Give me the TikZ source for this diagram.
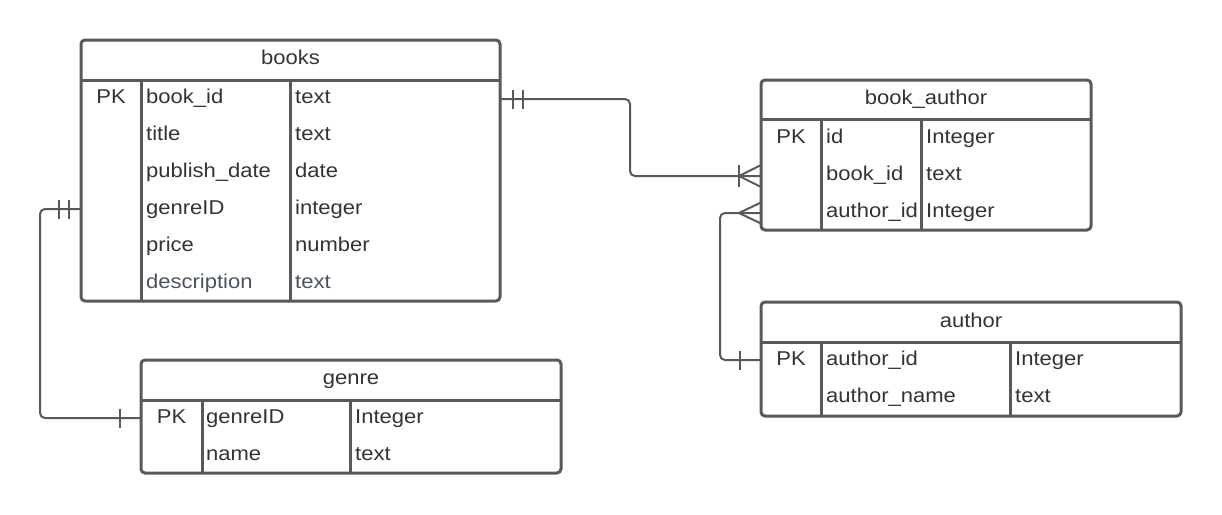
\documentclass[tikz,border=0pt]{standalone}
\usepackage{fontspec}
\setmainfont[FakeStretch=1.1]{Liberation Sans}
\definecolor{edgec}{HTML}{595959}
\definecolor{txtc}{HTML}{333333}
\definecolor{dimc}{HTML}{4A5160}
\tikzset{
  tbl/.style={draw=edgec, line width=3pt, rounded corners=4pt, inner sep=0pt, outer sep=0pt, anchor=north west},
  sepline/.style={draw=edgec, line width=3pt},
  conn/.style={draw=edgec, line width=2pt, rounded corners=5pt},
  tick/.style={draw=edgec, line width=2pt},
  lbl/.style={text=txtc, font=\fontsize{20}{24}\selectfont, inner sep=0pt, anchor=base west},
  dimlbl/.style={lbl, text=dimc},
  hdr/.style={lbl, anchor=base},
  pk/.style={lbl, anchor=base},
}
\begin{document}
\begin{tikzpicture}[x=1pt,y=-1pt]
\useasboundingbox (0,0) rectangle (1222,514);

% ---------- tables (outer frames) ----------
\node[tbl, minimum width=419pt, minimum height=261pt] (books) at (81,40) {};
\node[tbl, minimum width=330pt, minimum height=150pt] (bookauthor) at (761,80) {};
\node[tbl, minimum width=420pt, minimum height=114pt] (author) at (761,302) {};
\node[tbl, minimum width=420pt, minimum height=113pt] (genre) at (141,360) {};

% ---------- inner lines ----------
% books
\draw[sepline] (81,80) -- (500,80);
\draw[sepline] (141,80) -- (141,301);
\draw[sepline] (290,80) -- (290,301);
% book_author
\draw[sepline] (761,119) -- (1091,119);
\draw[sepline] (821,119) -- (821,230);
\draw[sepline] (921,119) -- (921,230);
% author
\draw[sepline] (761,342) -- (1181,342);
\draw[sepline] (821,342) -- (821,416);
\draw[sepline] (1010,342) -- (1010,416);
% genre
\draw[sepline] (141,400) -- (561,400);
\draw[sepline] (202,400) -- (202,473);
\draw[sepline] (350,400) -- (350,473);

% ---------- texts: books ----------
\node[hdr] (booksH) at (290.5,64) {books};
\node[pk] (booksPK) at (111,103) {PK};
\node[lbl] (bn1) at (146,103) {book\_id};      \node[lbl] (bt1) at (295,103) {text};
\node[lbl] (bn2) at (146,140) {title};         \node[lbl] (bt2) at (295,140) {text};
\node[lbl] (bn3) at (146,177) {publish\_date}; \node[lbl] (bt3) at (295,177) {date};
\node[lbl] (bn4) at (146,214) {genreID};       \node[lbl] (bt4) at (295,214) {integer};
\node[lbl] (bn5) at (146,251) {price};         \node[lbl] (bt5) at (295,251) {number};
\node[dimlbl] (bn6) at (146,288) {description}; \node[dimlbl] (bt6) at (295,288) {text};

% ---------- texts: book_author ----------
\node[hdr] (baH) at (926,104) {book\_author};
\node[pk] (baPK) at (791,143) {PK};
\node[lbl] (ban1) at (826,143) {id};        \node[lbl] (bat1) at (926,143) {Integer};
\node[lbl] (ban2) at (826,180) {book\_id};  \node[lbl] (bat2) at (926,180) {text};
\node[lbl] (ban3) at (826,217) {author\_id};\node[lbl] (bat3) at (926,217) {Integer};

% ---------- texts: author ----------
\node[hdr] (auH) at (971,327) {author};
\node[pk] (auPK) at (791,365) {PK};
\node[lbl] (aun1) at (826,365) {author\_id};   \node[lbl] (aut1) at (1015,365) {Integer};
\node[lbl] (aun2) at (826,402) {author\_name}; \node[lbl] (aut2) at (1015,402) {text};

% ---------- texts: genre ----------
\node[hdr] (gH) at (351,384) {genre};
\node[pk] (gPK) at (171.5,423) {PK};
\node[lbl] (gn1) at (206,423) {genreID}; \node[lbl] (gt1) at (355,423) {Integer};
\node[lbl] (gn2) at (206,460) {name};    \node[lbl] (gt2) at (355,460) {text};

% ---------- connectors ----------
\draw[conn] ([yshift=-59pt]books.north east) coordinate (c1a) -- ++(130,0) |- ([yshift=-96pt]bookauthor.north west) coordinate (c1b);
\draw[conn] ([yshift=-169pt]books.north west) coordinate (c2a) -- ++(-41,0) |- ([yshift=-58pt]genre.north west) coordinate (c2b);
\draw[conn] ([yshift=-133pt]bookauthor.north west) coordinate (c3a) -- ++(-41,0) |- ([yshift=-58pt]author.north west) coordinate (c3b);

% ---------- cardinality marks ----------
% books side of books--book_author: exactly one (double bar)
\draw[tick] (513,89.5) -- (513,108.5);
\draw[tick] (523,89.5) -- (523,108.5);
% book_author side: one or many
\draw[tick] (739,176) -- (c1b |- 0,165);
\draw[tick] (739,176) -- (c1b |- 0,187);
\draw[tick] (739,165) -- (739,187);
% books side of books--genre: exactly one
\draw[tick] (59,199.5) -- (59,218.5);
\draw[tick] (69,199.5) -- (69,218.5);
% genre side: one
\draw[tick] (120,408.5) -- (120,427.5);
% book_author side of book_author--author: many
\draw[tick] (739,213) -- (c3a |- 0,202.5);
\draw[tick] (739,213) -- (c3a |- 0,223.5);
% author side: one
\draw[tick] (740,350.5) -- (740,369.5);
\end{tikzpicture}
\end{document}
